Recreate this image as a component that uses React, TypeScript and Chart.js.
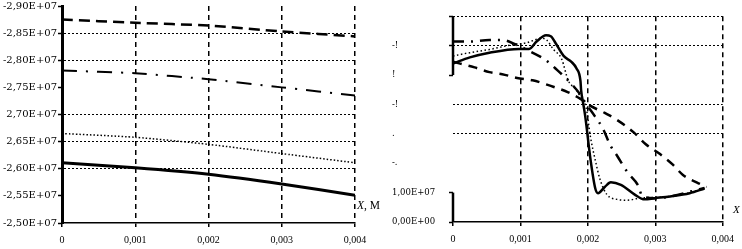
import React, { useEffect, useRef } from "react";
import { Chart, registerables } from "chart.js";
Chart.register(...registerables);

// ---------- Left panel data ----------
const leftX = [0, 0.001, 0.002, 0.003, 0.004];
const leftDashed = [2.875e7, 2.869e7, 2.864e7, 2.853e7, 2.844e7];
const leftDashDot = [2.781e7, 2.776e7, 2.765e7, 2.75e7, 2.735e7];
const leftDotted = [2.665e7, 2.658e7, 2.645e7, 2.628e7, 2.611e7];
const leftSolid = [2.611e7, 2.602e7, 2.59e7, 2.572e7, 2.551e7];
const leftYLabels = ["-2,50E+07", "-2,55E+07", "-2,60E+07", "2,65E+07", "2,70E+07", "-2,75E+07", "-2,80E+07", "-2,85E+07", "-2,90E+07"];
const xTickLabels = ["0", "0,001", "0,002", "0,003", "0,004"];

// ---------- Right panel data ----------
const solidX = [0, 0.00025, 0.00054, 0.00098, 0.00113, 0.00124, 0.00138, 0.00145, 0.00152, 0.00164, 0.00176, 0.00183, 0.00189, 0.0019, 0.00193, 0.00196, 0.00204, 0.00211, 0.00215, 0.00225, 0.00234, 0.00249, 0.00269, 0.00284, 0.00299, 0.00322, 0.00351, 0.00373];
const solidY = [5.39e7, 5.6e7, 5.76e7, 5.89e7, 5.89e7, 6.14e7, 6.35e7, 6.32e7, 6.09e7, 5.65e7, 5.44e7, 5.23e7, 4.8e7, 4.48e7, 4.04e7, 3.61e7, 2.11e7, 1.14e7, 0.98e7, 1.19e7, 1.35e7, 1.26e7, 0.94e7, 0.77e7, 0.81e7, 0.87e7, 0.98e7, 1.14e7];

const dottedX = [0, 0.00025, 0.00054, 0.00088, 0.00108, 0.00132, 0.00139, 0.00149, 0.00161, 0.00171, 0.00182, 0.00189, 0.00197, 0.00204, 0.00211, 0.00218, 0.00228, 0.00243, 0.00258, 0.00276, 0.00322, 0.00351, 0.00373];
const dottedY = [5.65e7, 5.76e7, 5.87e7, 6.03e7, 6.09e7, 6.25e7, 6.19e7, 5.87e7, 5.55e7, 4.81e7, 4.52e7, 4.26e7, 3.94e7, 2.87e7, 2.1e7, 1.45e7, 0.94e7, 0.77e7, 0.74e7, 0.81e7, 0.87e7, 1.0e7, 1.14e7];

const dashDotX = [0, 0.00025, 0.00054, 0.00073, 0.00094, 0.00117, 0.00135, 0.00155, 0.00171, 0.00187, 0.00197, 0.0021, 0.00222, 0.00234, 0.00244, 0.00259, 0.00274, 0.00281, 0.00299, 0.00322, 0.00351, 0.00373];
const dashDotY = [6.14e7, 6.14e7, 6.19e7, 6.19e7, 6.03e7, 5.77e7, 5.55e7, 5.16e7, 4.81e7, 4.39e7, 4.03e7, 3.61e7, 3.19e7, 2.58e7, 2.23e7, 1.68e7, 1.26e7, 0.87e7, 0.81e7, 0.87e7, 1.03e7, 1.16e7];

const dashedX = [0, 0.00032, 0.00054, 0.00073, 0.00095, 0.00118, 0.00145, 0.0017, 0.00189, 0.002, 0.00225, 0.0024, 0.00268, 0.00285, 0.00307, 0.00326, 0.00341, 0.00362, 0.00376];
const dashedY = [5.45e7, 5.26e7, 5.1e7, 5.03e7, 4.9e7, 4.82e7, 4.63e7, 4.42e7, 4.19e7, 4.0e7, 3.71e7, 3.52e7, 3.05e7, 2.66e7, 2.31e7, 1.95e7, 1.6e7, 1.34e7, 1.19e7];

const rightYLabels = ["0,00E+00", "1,00E+07", "-.", ".", "-!", "!", "-!", ""];

// style flags
const leftHGridShown = [false, false, true, true, true, false, true, true, false];
const rightHGridShown = [false, false, false, true, true, false, true, true];
const rightTickShown = [true, true, false, false, false, true, true, true];
const rightAxisSegments = [[7e7, 5e7], [1e7, 0]];

const pts = (xs: number[], ys: number[]) => xs.map((x, i) => ({ x, y: ys[i] }));
const black = "#000";
const none = "rgba(0,0,0,0)";

const partialAxis = {
  id: "partialAxis",
  afterDraw(chart: any) {
    const ys = chart.scales.y;
    const ctx = chart.ctx;
    const x = chart.chartArea.left;
    ctx.save();
    ctx.strokeStyle = black;
    ctx.lineWidth = 2.5;
    ctx.setLineDash([]);
    for (const [a, b] of rightAxisSegments) {
      ctx.beginPath();
      ctx.moveTo(x, ys.getPixelForValue(a));
      ctx.lineTo(x, ys.getPixelForValue(b));
      ctx.stroke();
    }
    ctx.restore();
  },
};

function makeXScale(height: number) {
  return {
    type: "linear",
    min: 0,
    max: 0.004,
    afterFit: (s: any) => { s.height = height; },
    border: { display: true, color: black, width: 1.5, dash: [5, 4] },
    grid: {
      color: (c: any) => (c.index === 0 ? none : black),
      lineWidth: 1.5,
      drawTicks: true,
      tickLength: 4,
      tickColor: black,
      tickWidth: 1.5,
      tickBorderDash: [],
    },
    ticks: {
      stepSize: 0.001,
      padding: 8,
      color: black,
      maxRotation: 0,
      autoSkip: false,
      font: { family: "'Liberation Serif', serif", size: 10, lineHeight: 1 },
      callback: (_v: any, i: number) => xTickLabels[i],
    },
  };
}

function LeftChart() {
  const ref = useRef<HTMLCanvasElement>(null);
  useEffect(() => {
    const chart = new Chart(ref.current!, {
      type: "line",
      data: {
        datasets: [
          { data: pts(leftX, leftDashed), borderColor: black, borderWidth: 2.5, borderDash: [11, 6], pointRadius: 0, tension: 0.2 },
          { data: pts(leftX, leftDashDot), borderColor: black, borderWidth: 2, borderDash: [15, 9, 2, 9], pointRadius: 0, tension: 0.2 },
          { data: pts(leftX, leftDotted), borderColor: black, borderWidth: 1.5, borderDash: [1.5, 2], pointRadius: 0, tension: 0.2 },
          { data: pts(leftX, leftSolid), borderColor: black, borderWidth: 3, pointRadius: 0, tension: 0.2 },
        ],
      },
      options: {
        animation: false,
        responsive: false,
        events: [],
        layout: { padding: { left: 0, right: 25, top: 5, bottom: 0 } },
        plugins: { legend: { display: false }, tooltip: { enabled: false } },
        scales: {
          x: makeXScale(26) as any,
          y: {
            type: "linear",
            min: 2.5e7,
            max: 2.9e7,
            afterFit: (s: any) => { s.width = 62; },
            border: { display: true, color: black, width: 3, dash: [2, 2] },
            grid: {
              color: (c: any) => (leftHGridShown[c.index] ? black : none),
              lineWidth: 1,
              drawTicks: true,
              tickLength: 4,
              tickColor: black,
              tickWidth: 1.5,
              tickBorderDash: [],
            },
            ticks: {
              stepSize: 0.05e7,
              padding: 1,
              color: black,
              autoSkip: false,
              font: { family: "'DejaVu Serif', serif", size: 10, lineHeight: 1 },
              callback: (_v: any, i: number) => leftYLabels[i],
            },
          },
        },
      },
    });
    return () => chart.destroy();
  }, []);
  return <canvas ref={ref} width={380} height={249} style={{ position: "absolute", left: 0, top: 0, width: 380, height: 249 }} />;
}

function RightChart() {
  const ref = useRef<HTMLCanvasElement>(null);
  useEffect(() => {
    const chart = new Chart(ref.current!, {
      type: "line",
      data: {
        datasets: [
          { data: pts(dashedX, dashedY), borderColor: black, borderWidth: 2.5, borderDash: [9, 7], pointRadius: 0, cubicInterpolationMode: "monotone" },
          { data: pts(dashDotX, dashDotY), borderColor: black, borderWidth: 2.5, borderDash: [11, 7, 2, 7], pointRadius: 0, cubicInterpolationMode: "monotone" },
          { data: pts(dottedX, dottedY), borderColor: black, borderWidth: 1.5, borderDash: [1.5, 2.5], pointRadius: 0, cubicInterpolationMode: "monotone" },
          { data: pts(solidX, solidY), borderColor: black, borderWidth: 2.5, pointRadius: 0, cubicInterpolationMode: "monotone" },
        ],
      },
      plugins: [partialAxis],
      options: {
        animation: false,
        responsive: false,
        events: [],
        layout: { padding: { left: 12, right: 15, top: 5, bottom: 0 } },
        plugins: { legend: { display: false }, tooltip: { enabled: false } },
        scales: {
          x: makeXScale(27) as any,
          y: {
            type: "linear",
            min: 0,
            max: 7e7,
            afterFit: (s: any) => { s.width = 61; },
            border: { display: false, color: black, width: 2, dash: [2, 2] },
            grid: {
              color: (c: any) => (rightHGridShown[c.index] ? black : none),
              lineWidth: 1,
              drawTicks: true,
              tickLength: 4,
              tickColor: (c: any) => (rightTickShown[c.index] ? black : none),
              tickWidth: 1.5,
              tickBorderDash: [],
            },
            ticks: {
              stepSize: 1e7,
              padding: 12,
              color: black,
              autoSkip: false,
              crossAlign: "far",
              font: { family: "'DejaVu Serif', serif", size: 8.5, lineHeight: 1 },
              callback: (_v: any, i: number) => rightYLabels[i],
            },
          },
        },
      },
    });
    return () => chart.destroy();
  }, []);
  return <canvas ref={ref} width={362} height={249} style={{ position: "absolute", left: 380, top: 0, width: 362, height: 249 }} />;
}

export default function App() {
  return (
    <div style={{ position: "absolute", left: 0, top: 0, width: 742, height: 249, background: "#fff", overflow: "hidden" }}>
      <LeftChart />
      <RightChart />
      <div style={{ position: "absolute", left: 357, top: 199, fontFamily: "'Liberation Serif', serif", fontSize: 11.5, color: "#000", whiteSpace: "nowrap", lineHeight: "12px" }}>
        <i>X</i>, M
      </div>
      <div style={{ position: "absolute", left: 733, top: 203, fontFamily: "'Liberation Serif', serif", fontSize: 11, color: "#000", whiteSpace: "nowrap", lineHeight: "12px" }}>
        <i>X</i>
      </div>
    </div>
  );
}
